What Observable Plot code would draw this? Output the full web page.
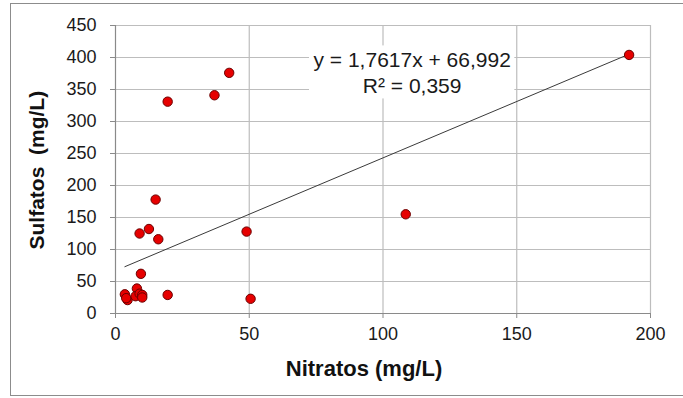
<!DOCTYPE html>
<html>
<head>
<meta charset="utf-8">
<script src="https://cdn.jsdelivr.net/npm/d3@7"></script>
<script src="https://cdn.jsdelivr.net/npm/@observablehq/plot@0.6"></script>
<style>
  html, body { margin: 0; padding: 0; background: #fff; overflow: hidden; }
  #wrap { position: relative; width: 683px; height: 398px; }
  #border { position: absolute; left: 10px; top: 3px; width: 720px; height: 393px; border: 1px solid #8c8c8c; box-sizing: border-box; pointer-events: none; }
  svg { font-family: "Liberation Sans", Arial, sans-serif; }
</style>
</head>
<body>
<div id="wrap"><div id="border"></div></div>
<script>
const nitratos = [192, 108.5, 42.5, 37, 19.5, 15, 12.5, 16, 9, 49, 50.5, 19.5, 9.5, 3.5, 4.5, 4, 8, 7.5, 9, 10, 10];
const sulfatos = [404, 155, 376, 341, 331, 178, 132, 116, 125, 128, 23, 29, 62, 30, 21, 24, 39, 27, 31, 29, 25];
const xTicks = [0, 50, 100, 150, 200];
const yTicks = [0, 50, 100, 150, 200, 250, 300, 350, 400, 450];
const slope = 1.7617, intercept = 66.992;
const eqLines = ["y = 1,7617x + 66,992", "R² = 0,359"];
const xTitle = "Nitratos (mg/L)";
const yTitle = "Sulfatos  (mg/L)";

const points = nitratos.map((x, i) => ({x, y: sulfatos[i]}));
const [xmin, xmax] = d3.extent(nitratos);
const trend = [xmin, xmax].map(x => ({x, y: slope * x + intercept}));

const chart = Plot.plot({
  width: 683,
  height: 398,
  marginLeft: 115,
  marginRight: 33,
  marginTop: 25,
  marginBottom: 85,
  style: {fontFamily: "Liberation Sans, Arial, sans-serif", background: "transparent"},
  x: {domain: [0, 200]},
  y: {domain: [0, 450]},
  marks: [
    Plot.ruleX(xTicks.slice(1), {stroke: "#bdbdbd", strokeWidth: 1.2}),
    Plot.ruleY(yTicks.slice(1), {stroke: "#bdbdbd", strokeWidth: 1.2}),
    Plot.ruleX([0], {stroke: "#8a8a8a", strokeWidth: 1.2}),
    Plot.ruleY([0], {stroke: "#8a8a8a", strokeWidth: 1.2}),
    Plot.axisX({ticks: xTicks, tickSize: 5, tickPadding: 9, fontSize: 18, label: null, stroke: "#8a8a8a", color: "#1a1a1a"}),
    Plot.axisY({ticks: yTicks, tickSize: 5, tickPadding: 14, fontSize: 18, label: null, stroke: "#8a8a8a", color: "#1a1a1a"}),
    Plot.line(trend, {x: "x", y: "y", stroke: "#3a3a3a", strokeWidth: 1}),
    Plot.dot(points, {x: "x", y: "y", r: 4.7, fill: "#e60000", stroke: "#6b0000", strokeWidth: 1}),
    Plot.text([eqLines.join("\n")], {x: 110.9, y: 378, text: d => d, fontSize: 21, lineHeight: 1.24, fill: "#1a1a1a", className: "eq"}),
    Plot.text([xTitle], {frameAnchor: "bottom", dx: -19, dy: 62, fontSize: 22, fontWeight: "bold", fill: "#111"}),
    Plot.text([yTitle], {frameAnchor: "left", dx: -78, dy: 80, rotate: -90, fontSize: 21, fontWeight: "bold", fill: "#111"})
  ]
});

document.getElementById("wrap").prepend(chart);

// white box behind the equation label
const eq = chart.querySelector("g.eq") || chart.querySelector(".eq");
if (eq) {
  const bb = eq.getBBox();
  const rect = document.createElementNS("http://www.w3.org/2000/svg", "rect");
  rect.setAttribute("x", bb.x - 4);
  rect.setAttribute("y", bb.y - 2);
  rect.setAttribute("width", bb.width + 8);
  rect.setAttribute("height", bb.height + 4);
  rect.setAttribute("fill", "white");
  eq.parentNode.insertBefore(rect, eq);
}
</script>
</body>
</html>
